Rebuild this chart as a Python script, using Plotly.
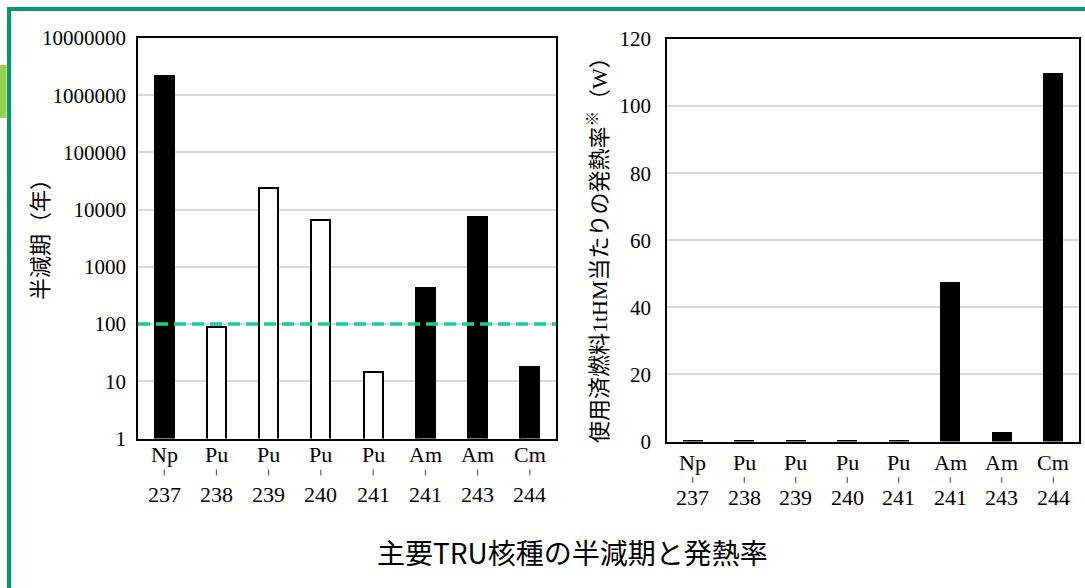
import plotly.graph_objects as go

# Major TRU nuclides: half-life and decay heat per tonne of heavy metal
elements = ["Np", "Pu", "Pu", "Pu", "Pu", "Am", "Am", "Cm"]
mass_numbers = ["237", "238", "239", "240", "241", "241", "243", "244"]
half_life_years = [2140000, 87.7, 24100, 6560, 14.3, 432, 7370, 18.1]
heat_w_per_thm = [0.4, 0.5, 0.4, 0.4, 0.4, 47.5, 2.9, 110]
half_life_ticks = [1, 10, 100, 1000, 10000, 100000, 1000000, 10000000]
heat_ticks = [0, 20, 40, 60, 80, 100, 120]
threshold_years = 100

nuclides = [f"{e}-{m}" for e, m in zip(elements, mass_numbers)]

W, H = 1085, 588
SERIF = "Liberation Serif, 'Noto Sans CJK JP', serif"
GOTHIC = "'Noto Sans CJK JP', sans-serif"
FRAME_GREEN = "#009a6e"


def fx(px):
    return px / W


def fy(px):
    return 1 - px / H


# plutonium isotopes are drawn hollow, the rest solid
fills = ["white" if e == "Pu" else "black" for e in elements]

fig = go.Figure()

fig.add_trace(go.Bar(
    x=nuclides, y=half_life_years, xaxis="x", yaxis="y",
    marker=dict(color=fills, line=dict(color="black", width=2)),
    width=0.36, showlegend=False, hoverinfo="x+y",
))

# 100-year reference line across the whole plot width
fig.add_trace(go.Scatter(
    x=[0, 1], y=[threshold_years, threshold_years], xaxis="x3", yaxis="y",
    mode="lines", line=dict(color="#19cf98", width=3.5, dash="12px,6px"),
    showlegend=False, hoverinfo="skip",
))

fig.add_trace(go.Bar(
    x=nuclides, y=heat_w_per_thm, xaxis="x2", yaxis="y2",
    marker=dict(color="black", line=dict(width=0)),
    width=0.39, showlegend=False, hoverinfo="x+y",
))

box = dict(showline=True, mirror=True, linecolor="black", linewidth=1.5,
           automargin=False)

fig.update_layout(
    width=W, height=H,
    margin=dict(l=0, r=0, t=0, b=0, autoexpand=False),
    paper_bgcolor="white", plot_bgcolor="white",
    bargap=0,
    xaxis=dict(domain=[fx(138), fx(556)], anchor="y", type="category",
               range=[-0.5, 7.5], showticklabels=False, showgrid=False,
               ticks="", **box),
    xaxis3=dict(overlaying="x", range=[0, 1], visible=False, automargin=False),
    yaxis=dict(domain=[fy(438.5), fy(38)], anchor="x", type="log",
               range=[0, 7], tickvals=half_life_ticks,
               ticktext=[str(v) for v in half_life_ticks],
               tickfont=dict(family=SERIF, size=21, color="black"),
               ticks="outside", ticklen=6, tickcolor="rgba(0,0,0,0)",
               showgrid=True, gridcolor="#d9d9d9", gridwidth=1.5,
               zeroline=False, **box),
    xaxis2=dict(domain=[fx(667), fx(1079)], anchor="y2", type="category",
                range=[-0.5, 7.5], showticklabels=False, showgrid=False,
                ticks="", **box),
    yaxis2=dict(domain=[fy(441.5), fy(39)], anchor="x2", range=[0, 120],
                tickvals=heat_ticks, ticktext=[str(v) for v in heat_ticks],
                tickfont=dict(family=SERIF, size=21, color="black"),
                ticks="outside", ticklen=10, tickcolor="rgba(0,0,0,0)",
                showgrid=True, gridcolor="#d9d9d9", gridwidth=1.5,
                zeroline=False, **box),
)

annotations = []
shapes = []

# two-level category labels: element symbol, small tick, mass number
for xref, rows in (("x", (454, 472.5, 494.5)), ("x2", (462, 480, 497.5))):
    y_sym, y_tick, y_mass = rows
    for i, (n, e, m) in enumerate(zip(nuclides, elements, mass_numbers)):
        annotations.append(dict(x=n, xref=xref, y=fy(y_sym), yref="paper",
                                text=e, showarrow=False, yanchor="middle",
                                font=dict(family=SERIF, size=22, color="black")))
        annotations.append(dict(x=n, xref=xref, y=fy(y_mass), yref="paper",
                                text=m, showarrow=False, yanchor="middle",
                                font=dict(family=SERIF, size=22, color="black")))
        shapes.append(dict(type="line", xref=xref, yref="paper", x0=i, x1=i,
                           y0=fy(y_tick - 3), y1=fy(y_tick + 3),
                           line=dict(color="#444444", width=1)))

# axis titles
annotations.append(dict(x=fx(38), y=fy(234), xref="paper", yref="paper",
                        text="半減期（年）", textangle=-90, showarrow=False,
                        xanchor="center", yanchor="middle",
                        font=dict(family=GOTHIC, size=22, color="black")))
annotations.append(dict(x=fx(598), y=fy(245), xref="paper", yref="paper",
                        text="使用済燃料1tHM当たりの発熱率<sup>※</sup>（W）",
                        textangle=-90, showarrow=False,
                        xanchor="center", yanchor="middle",
                        font=dict(family=SERIF, size=22, color="black")))

# caption
annotations.append(dict(x=fx(572), y=fy(552), xref="paper", yref="paper",
                        text="主要TRU核種の半減期と発熱率", showarrow=False,
                        xanchor="center", yanchor="middle",
                        font=dict(family=GOTHIC, size=28, color="black")))

# panel frame: green rule along the top and left edge, with a light tab
shapes += [
    dict(type="line", xref="paper", yref="paper", x0=fx(9), x1=fx(1100),
         y0=fy(9), y1=fy(9), line=dict(color=FRAME_GREEN, width=4)),
    dict(type="line", xref="paper", yref="paper", x0=fx(9), x1=fx(9),
         y0=fy(7), y1=fy(600), line=dict(color=FRAME_GREEN, width=4)),
    dict(type="rect", xref="paper", yref="paper", x0=fx(-2), x1=fx(6.5),
         y0=fy(118), y1=fy(65), line=dict(width=0), fillcolor="#92d050"),
]

fig.update_layout(annotations=annotations, shapes=shapes)

fig.write_html("out.html")
